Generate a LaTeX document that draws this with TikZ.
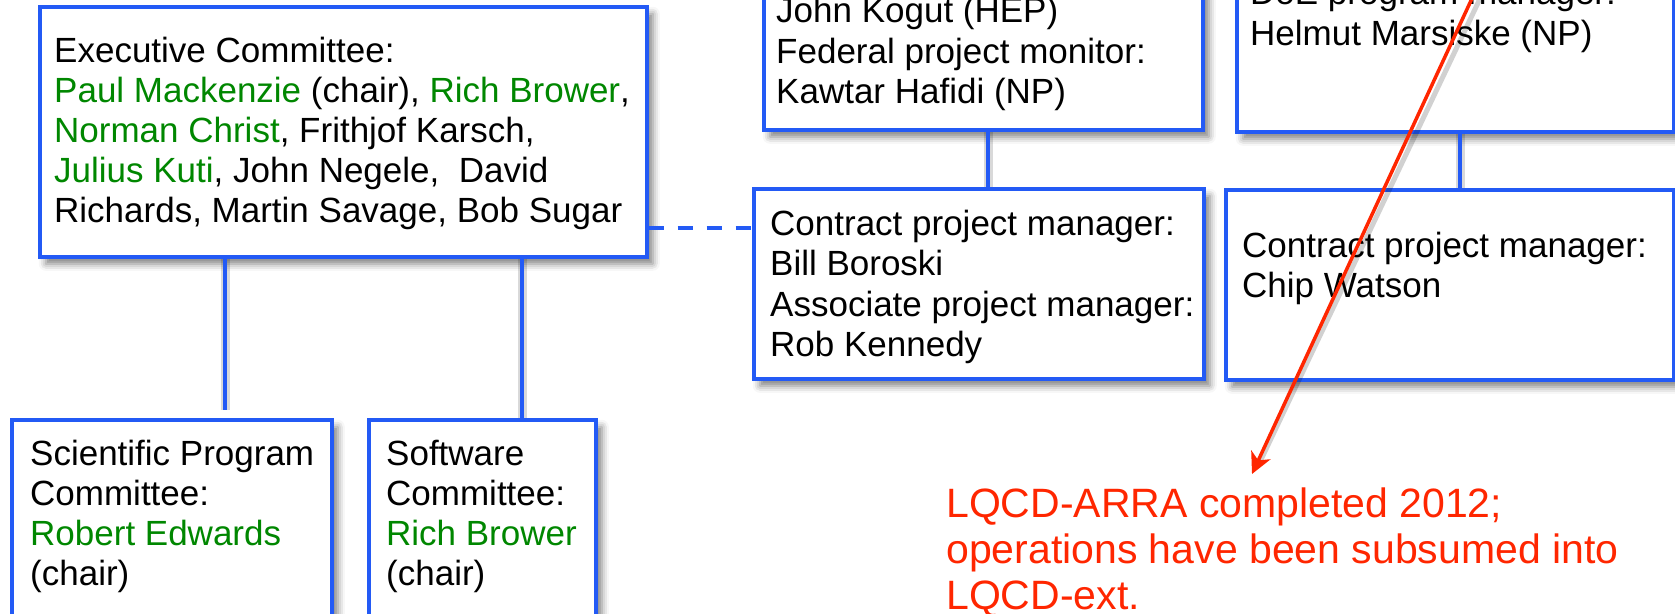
\documentclass[tikz,border=0pt]{standalone}
\usepackage{fontspec}
\setmainfont{Liberation Sans}
\usetikzlibrary{arrows.meta,shadows.blur,calc}
\definecolor{bblue}{RGB}{35,90,245}
\definecolor{ggreen}{RGB}{0,135,0}
\definecolor{rred}{RGB}{255,38,0}
\newcommand\gn[1]{\textcolor{ggreen}{#1}}
\begin{document}
\begin{tikzpicture}[x=1pt,y=-1pt,
  box/.style={draw=bblue, line width=3.5pt, fill=white, rectangle, anchor=north west, inner sep=0pt,
    blur shadow={shadow xshift=6pt, shadow yshift=-7pt, shadow blur radius=7pt, shadow opacity=50}},
  conn/.style={draw=bblue, line width=4.5pt},
  connshadow/.style={draw=black, opacity=0.15, line width=9pt},
  txt/.style={anchor=base west, inner sep=0pt, font=\fontsize{35}{40}\selectfont},
  rtxt/.style={anchor=base west, inner sep=0pt, text=rred, font=\fontsize{41}{46}\selectfont},
  redarrow/.style={draw=rred, line width=3.5pt, -{Stealth[length=21pt,width=21pt,inset=6pt]}},
]
\useasboundingbox (0,0) rectangle (1675,613);
\clip (0,0) rectangle (1675,613);

% boxes
\node[box, minimum width=607pt, minimum height=250pt] (exec) at (38,5) {};
\node[box, minimum width=320pt, minimum height=200pt] (spc) at (10,418) {};
\node[box, minimum width=227pt, minimum height=200pt] (soft) at (367,418) {};
\node[box, minimum width=439pt, minimum height=188pt] (fed) at (762,-60) {};
\node[box, minimum width=450pt, minimum height=190pt] (cpm) at (752,187) {};
\node[box, minimum width=437pt, minimum height=190pt] (doe) at (1235,-60) {};
\node[box, minimum width=448pt, minimum height=190pt] (jlab) at (1224,188) {};

% connector positions
\coordinate (lc) at (225,0);
\coordinate (rc) at (522,0);
\coordinate (fc) at (988,0);
\coordinate (dc) at (1460,0);
\coordinate (dl) at (0,228);

% connector shadows
\begin{scope}[shift={(7,4)}]
\draw[connshadow] (exec.south -| lc) -- ([yshift=8pt]spc.north -| lc);
\draw[connshadow] (exec.south -| rc) -- (soft.north -| rc);
\draw[connshadow] (fed.south -| fc) -- (cpm.north -| fc);
\draw[connshadow] (doe.south -| dc) -- (jlab.north -| dc);
\end{scope}

\draw[conn] (exec.south -| lc) -- ([yshift=8pt]spc.north -| lc);
\draw[conn] (exec.south -| rc) -- (soft.north -| rc);
\draw[conn] (fed.south -| fc) -- (cpm.north -| fc);
\draw[conn] (doe.south -| dc) -- (jlab.north -| dc);
\draw[conn, dash pattern=on 15pt off 14pt] (exec.east |- dl) -- (cpm.west |- dl);

% executive committee
\node[txt] (e1) at (54,62) {Executive Committee:};
\node[txt] (e2) at (54,102) {\gn{Paul Mackenzie} (chair), \gn{Rich Brower},};
\node[txt] (e3) at (54,142) {\gn{Norman Christ}, Frithjof Karsch,};
\node[txt] (e4) at (54,182) {\gn{Julius Kuti}, John Negele, \ David};
\node[txt] (e5) at (54,222) {Richards, Martin Savage, Bob Sugar};

% scientific program committee
\node[txt] (s1) at (30,465) {Scientific Program};
\node[txt] (s2) at (30,505) {Committee:};
\node[txt] (s3) at (30,545) {\gn{Robert Edwards}};
\node[txt] (s4) at (30,585) {(chair)};

% software committee
\node[txt] (w1) at (386,465) {Software};
\node[txt] (w2) at (386,505) {Committee:};
\node[txt] (w3) at (386,545) {\gn{Rich Brower}};
\node[txt] (w4) at (386,585) {(chair)};

% federal box
\node[txt] (f1) at (776,23) {John Kogut (HEP)};
\node[txt] (f2) at (776,63) {Federal project monitor:};
\node[txt] (f3) at (776,103) {Kawtar Hafidi (NP)};

% contract project manager (FNAL)
\node[txt] (c1) at (770,235) {Contract project manager:};
\node[txt] (c2) at (770,275.5) {Bill Boroski};
\node[txt] (c3) at (770,316) {Associate project manager:};
\node[txt] (c4) at (770,356.5) {Rob Kennedy};

% DoE box
\node[txt] (d1) at (1250,5) {DoE program manager:};
\node[txt] (d2) at (1250,45) {Helmut Marsiske (NP)};

% JLab contract PM
\node[txt] (j1) at (1242,257) {Contract project manager:};
\node[txt] (j2) at (1242,297) {Chip Watson};

% red note
\node[rtxt] (r1) at (946,517) {LQCD-ARRA completed 2012;};
\node[rtxt] (r2) at (946,563) {operations have been subsumed into};
\node[rtxt] (r3) at (946,609) {LQCD-ext.};

% red arrow
\coordinate (as) at (1499,-60);
\coordinate (ae) at (1252,474);
\draw[line width=5pt, black, opacity=0.18] ([shift={(6,6)}]as) -- ([shift={(6,-8)}]ae);
\draw[redarrow] (as) -- (ae);
\end{tikzpicture}
\end{document}
